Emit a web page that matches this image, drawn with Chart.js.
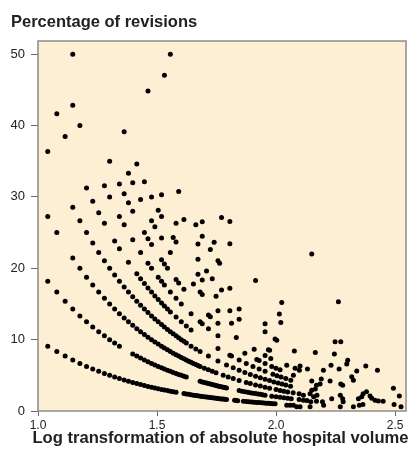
<!DOCTYPE html>
<html>
<head>
<meta charset="utf-8">
<script src="https://cdn.jsdelivr.net/npm/chart.js@4.4.1/dist/chart.umd.min.js"></script>
<style>
    html, body { margin: 0; padding: 0; background: #fff; }
    #wrap { width: 410px; height: 450px; }
</style>
</head>
<body>
<div id="wrap"><canvas id="revisionChart" width="410" height="450"></canvas></div>
<script>
const xTicks = [1.0, 1.5, 2.0, 2.5];
const yTicks = [0, 10, 20, 30, 40, 50];
const yTitle = 'Percentage of revisions';
const xTitle = 'Log transformation of absolute hospital volume';

// points as [log volume, % revisions], grouped by the curve they sit on
const oneRevision = [[1.041,9.09],[1.079,8.33],[1.114,7.69],[1.146,7.14],[1.176,6.67],[1.204,6.25],[1.230,5.88],[1.255,5.56],[1.279,5.26],[1.301,5.00],[1.322,4.76],[1.342,4.55],[1.362,4.35],[1.380,4.17],[1.398,4.00],[1.415,3.85],[1.431,3.70],[1.447,3.57],[1.462,3.45],[1.477,3.33],[1.491,3.23],[1.505,3.13],[1.519,3.03],[1.531,2.94],[1.544,2.86],[1.556,2.78],[1.568,2.70],[1.580,2.63],[1.613,2.44],[1.623,2.38],[1.633,2.33],[1.643,2.27],[1.653,2.22],[1.663,2.17],[1.672,2.13],[1.681,2.08],[1.690,2.04],[1.699,2.00],[1.708,1.96],[1.716,1.92],[1.724,1.89],[1.732,1.85],[1.740,1.82],[1.748,1.79],[1.756,1.75],[1.763,1.72],[1.771,1.69],[1.778,1.67],[1.785,1.64],[1.792,1.61],[1.826,1.49],[1.833,1.47],[1.839,1.45],[1.863,1.37],[1.875,1.33],[1.886,1.30],[1.898,1.27],[1.908,1.23],[1.919,1.20],[1.929,1.18],[1.940,1.15],[1.949,1.12],[1.959,1.10],[1.968,1.08],[1.978,1.05],[1.987,1.03],[1.996,1.01]];
const twoRevisions = [[1.041,18.18],[1.079,16.67],[1.114,15.38],[1.146,14.29],[1.176,13.33],[1.204,12.50],[1.230,11.76],[1.255,11.11],[1.279,10.53],[1.301,10.00],[1.322,9.52],[1.342,9.09],[1.398,8.00],[1.415,7.69],[1.431,7.41],[1.447,7.14],[1.462,6.90],[1.477,6.67],[1.491,6.45],[1.505,6.25],[1.519,6.06],[1.531,5.88],[1.544,5.71],[1.556,5.56],[1.568,5.41],[1.580,5.26],[1.591,5.13],[1.602,5.00],[1.613,4.88],[1.623,4.76],[1.681,4.17],[1.690,4.08],[1.699,4.00],[1.708,3.92],[1.716,3.85],[1.724,3.77],[1.732,3.70],[1.740,3.64],[1.748,3.57],[1.756,3.51],[1.763,3.45],[1.771,3.39],[1.778,3.33],[1.785,3.28],[1.792,3.23],[1.845,2.86],[1.857,2.78],[1.869,2.70],[1.881,2.63],[1.892,2.56],[1.903,2.50],[1.914,2.44],[1.924,2.38],[1.934,2.33],[1.944,2.27],[1.954,2.22],[1.982,2.08],[2.000,2.00],[2.017,1.92],[2.033,1.85],[2.049,1.79],[2.064,1.72],[2.097,1.60],[2.130,1.48],[2.170,1.35]];
const threeRevisions = [[1.041,27.27],[1.079,25.00],[1.146,21.43],[1.176,20.00],[1.204,18.75],[1.230,17.65],[1.255,16.67],[1.279,15.79],[1.301,15.00],[1.322,14.29],[1.342,13.64],[1.362,13.04],[1.380,12.50],[1.398,12.00],[1.415,11.54],[1.431,11.11],[1.447,10.71],[1.462,10.34],[1.477,10.00],[1.491,9.68],[1.505,9.38],[1.519,9.09],[1.531,8.82],[1.544,8.57],[1.556,8.33],[1.568,8.11],[1.580,7.89],[1.591,7.69],[1.602,7.50],[1.613,7.32],[1.623,7.14],[1.633,6.98],[1.643,6.82],[1.653,6.67],[1.663,6.52],[1.672,6.38],[1.681,6.25],[1.699,6.00],[1.716,5.77],[1.732,5.56],[1.748,5.36],[1.778,5.00],[1.799,4.76],[1.820,4.55],[1.845,4.29],[1.875,4.00],[1.892,3.85],[1.914,3.66],[1.934,3.49],[1.954,3.33],[1.973,3.19],[2.000,3.00],[2.017,2.88],[2.033,2.78],[2.049,2.68],[2.072,2.54],[2.097,2.40]];
const fourRevisions = [[1.041,36.36],[1.146,28.57],[1.176,26.67],[1.204,25.00],[1.230,23.53],[1.255,22.22],[1.279,21.05],[1.301,20.00],[1.322,19.05],[1.342,18.18],[1.362,17.39],[1.380,16.67],[1.398,16.00],[1.415,15.38],[1.431,14.81],[1.447,14.29],[1.462,13.79],[1.477,13.33],[1.491,12.90],[1.505,12.50],[1.519,12.12],[1.531,11.76],[1.544,11.43],[1.556,11.11],[1.568,10.81],[1.580,10.53],[1.591,10.26],[1.602,10.00],[1.613,9.76],[1.623,9.52],[1.643,9.09],[1.663,8.70],[1.681,8.33],[1.716,7.69],[1.756,7.02],[1.792,6.45],[1.820,6.06],[1.845,5.71],[1.869,5.41],[1.892,5.13],[1.914,4.88],[1.934,4.65],[1.954,4.44],[1.973,4.26],[1.991,4.08],[2.009,3.92],[2.025,3.77],[2.041,3.64],[2.061,3.48]];
const fiveRevisions = [[1.079,41.67],[1.114,38.46],[1.204,31.25],[1.230,29.41],[1.255,27.78],[1.279,26.32],[1.322,23.81],[1.342,22.73],[1.380,20.83],[1.415,19.23],[1.431,18.52],[1.447,17.86],[1.462,17.24],[1.477,16.67],[1.491,16.13],[1.505,15.63],[1.519,15.15],[1.531,14.71],[1.544,14.29],[1.556,13.89],[1.580,13.16],[1.602,12.50],[1.623,11.90],[1.643,11.36],[1.756,8.77],[1.806,7.81],[1.813,7.69],[1.845,7.14],[1.875,6.67],[1.903,6.25],[1.929,5.88],[1.954,5.56],[1.987,5.15],[2.004,4.95],[2.021,4.76],[2.041,4.55]];
const sixRevisions = [[1.146,42.86],[1.176,40.00],[1.279,31.58],[1.301,30.00],[1.342,27.27],[1.362,26.09],[1.398,24.00],[1.431,22.22],[1.462,20.69],[1.477,20.00],[1.505,18.75],[1.519,18.18],[1.531,17.65],[1.556,16.67],[1.580,15.79],[1.602,15.00],[1.643,13.64],[1.681,12.50],[1.690,12.24],[1.716,11.54],[1.756,10.53],[1.869,8.11],[1.919,7.23],[1.929,7.06],[1.954,6.67],[1.982,6.25],[2.000,6.00],[2.017,5.77]];
const sevenRevisions = [[1.146,50.00],[1.301,35.00],[1.342,31.82],[1.362,30.43],[1.380,29.17],[1.398,28.00],[1.447,25.00],[1.462,24.14],[1.477,23.33],[1.519,21.21],[1.531,20.59],[1.544,20.00],[1.580,18.42],[1.591,17.95],[1.613,17.07],[1.716,13.46],[1.724,13.21],[1.756,12.28],[1.833,10.29],[1.908,8.64],[1.954,7.78],[1.978,7.37]];
const eightRevisions = [[1.380,33.33],[1.398,32.00],[1.431,29.63],[1.477,26.67],[1.491,25.81],[1.519,24.24],[1.556,22.22],[1.653,17.78],[1.681,16.67],[1.690,16.33],[1.756,14.04],[1.813,12.31],[1.968,8.60],[1.973,8.51]];
const nineRevisions = [[1.362,39.13],[1.415,34.62],[1.447,32.14],[1.477,30.00],[1.505,28.13],[1.519,27.27],[1.568,24.32],[1.580,23.68],[1.672,19.15],[1.690,18.37],[1.748,16.07],[1.806,14.06],[1.845,12.86]];
const tenRevisions = [[1.519,30.30],[1.580,26.32],[1.672,21.28],[1.708,19.61],[1.732,18.52],[1.771,16.95],[1.845,14.29],[1.954,11.11],[1.996,10.10]];
const manyRevisions = [[1.613,26.83],[1.672,23.40],[1.806,17.19],[1.954,12.22],[1.591,30.77],[1.663,26.09],[1.690,24.49],[1.724,22.64],[1.756,21.05],[1.763,20.69],[1.462,44.83],[1.690,26.53],[1.740,23.64],[1.806,23.44],[1.914,18.29],[1.531,47.06],[1.771,27.12],[1.806,26.56],[1.556,50.00],[2.150,22.00]];
const highVolume = [[2.024,15.2],[2.014,13.6],[2.020,12.4],[2.262,15.3],[2.003,9.9],[2.248,9.7],[2.272,9.7],[2.077,8.4],[2.165,8.2],[2.245,8.0],[2.301,7.1],[2.297,6.6],[2.231,6.4],[2.265,5.9],[2.377,6.3],[2.426,5.7],[2.339,5.6],[2.199,5.7],[2.132,5.9],[2.101,6.3],[2.098,5.7],[2.045,6.4],[2.080,6.0],[2.318,4.8],[2.325,4.3],[2.073,5.0],[2.062,4.3],[2.150,4.2],[2.190,4.5],[2.185,3.8],[2.170,3.6],[2.165,3.1],[2.150,2.9],[2.143,2.4],[2.227,4.2],[2.272,3.8],[2.280,3.6],[2.234,1.7],[2.270,2.2],[2.280,1.7],[2.282,1.3],[2.270,0.6],[2.325,0.6],[2.346,1.7],[2.360,2.0],[2.366,2.4],[2.380,2.7],[2.395,2.1],[2.402,1.8],[2.416,1.5],[2.430,1.4],[2.450,1.36],[2.350,0.8],[2.365,0.9],[2.493,3.2],[2.518,2.1],[2.496,0.9],[2.525,0.6],[2.200,0.8],[2.195,1.3],[2.146,1.3],[2.143,0.6],[2.115,2.2],[2.115,1.5],[2.158,2.0],[2.172,2.2],[2.045,0.8],[2.059,0.8],[2.073,0.8],[2.087,0.6],[2.101,0.6]];

const fontFamily = '"Liberation Sans", Arial, Helvetica, sans-serif';
const allPoints = [oneRevision, twoRevisions, threeRevisions, fourRevisions, fiveRevisions, sixRevisions,
    sevenRevisions, eightRevisions, nineRevisions, tenRevisions, manyRevisions, highVolume]
    .flat().map(p => ({ x: p[0], y: p[1] }));

const plotFrame = {
    id: 'plotFrame',
    beforeDraw(chart) {
        const { ctx, chartArea: a } = chart;
        ctx.save();
        ctx.fillStyle = '#fdefd4';
        ctx.fillRect(a.left, a.top, a.right - a.left, a.bottom - a.top);
        ctx.restore();
    },
    afterDraw(chart) {
        const { ctx, chartArea: a } = chart;
        ctx.save();
        ctx.strokeStyle = '#8c8c8c';
        ctx.lineWidth = 1.5;
        ctx.strokeRect(a.left, a.top, a.right - a.left, a.bottom - a.top);
        ctx.fillStyle = '#222';
        ctx.font = 'bold 16.5px ' + fontFamily;
        ctx.textAlign = 'left';
        ctx.textBaseline = 'alphabetic';
        ctx.fillText(yTitle, 11, 26.5);
        ctx.font = 'bold 16.6px ' + fontFamily;
        ctx.textAlign = 'center';
        ctx.fillText(xTitle, 220.5, 443);
        ctx.restore();
    }
};

new Chart(document.getElementById('revisionChart'), {
    type: 'scatter',
    data: {
        datasets: [{
            data: allPoints,
            backgroundColor: '#000',
            borderWidth: 0,
            pointRadius: 2.5,
            pointHoverRadius: 2.5
        }]
    },
    options: {
        responsive: false,
        animation: false,
        layout: { padding: { top: 41, right: 4, left: 0, bottom: 0 } },
        plugins: { legend: { display: false }, tooltip: { enabled: false } },
        scales: {
            x: {
                type: 'linear',
                min: 1.0,
                max: 2.546,
                afterBuildTicks: s => { s.ticks = xTicks.map(v => ({ value: v })); },
                afterFit: s => { s.height = 39; },
                grid: { drawOnChartArea: false, drawTicks: true, tickLength: 5, color: '#666' },
                border: { display: false },
                ticks: {
                    color: '#222',
                    padding: 2,
                    maxRotation: 0,
                    font: { family: fontFamily, size: 12 },
                    callback: v => Number(v).toFixed(1)
                }
            },
            y: {
                type: 'linear',
                min: 0,
                max: 51.85,
                afterBuildTicks: s => { s.ticks = yTicks.map(v => ({ value: v })); },
                afterFit: s => { s.width = 38; },
                grid: { drawOnChartArea: false, drawTicks: true, tickLength: 7, color: '#666' },
                border: { display: false },
                ticks: {
                    color: '#222',
                    padding: 6,
                    font: { family: fontFamily, size: 13 },
                    callback: v => String(v)
                }
            }
        }
    },
    plugins: [plotFrame]
});
</script>
</body>
</html>
